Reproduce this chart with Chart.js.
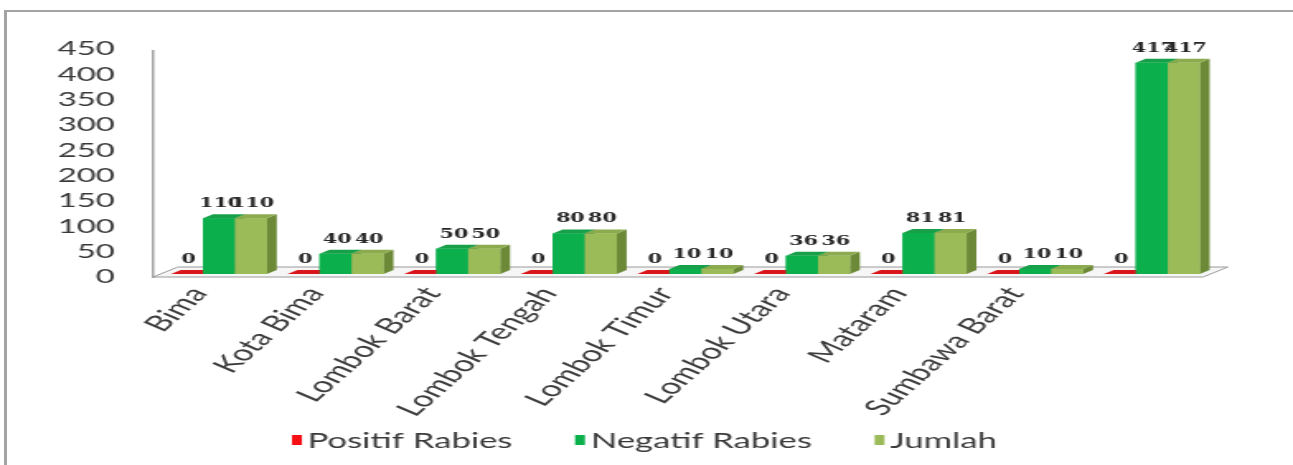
<!DOCTYPE html>
<html>
<head>
<meta charset="utf-8">
<script src="https://cdn.jsdelivr.net/npm/chart.js@4.4.1/dist/chart.umd.min.js"></script>
<style>
  html, body { margin: 0; padding: 0; background: #ffffff; overflow: hidden; }
  #wrap { position: relative; width: 1293px; height: 465px; }
  #wrap canvas { display: block; }
  #frame {
    position: absolute; left: 4px; top: 10px; right: 0; bottom: 0;
    border-top: 2px solid #a3a3a3; border-left: 3px solid #a3a3a3;
    pointer-events: none;
  }
</style>
</head>
<body>
<div id="wrap">
  <!-- drawn on a narrower bitmap and widened to the page width -->
  <canvas id="chart" width="784" height="465" style="width:1293px;height:465px"></canvas>
  <div id="frame"></div>
</div>
<script>
// ---- data ----
const categories = ['Bima', 'Kota Bima', 'Lombok Barat', 'Lombok Tengah', 'Lombok Timur',
                    'Lombok Utara', 'Mataram', 'Sumbawa Barat', ''];
const positifRabies = [0, 0, 0, 0, 0, 0, 0, 0, 0];
const negatifRabies = [110, 40, 50, 80, 10, 36, 81, 10, 417];
const jumlah        = [110, 40, 50, 80, 10, 36, 81, 10, 417];
const seriesNames   = ['Positif Rabies', 'Negatif Rabies', 'Jumlah'];
const yTickValues   = [0, 50, 100, 150, 200, 250, 300, 350, 400, 450];

// ---- look ----
const shades = [
  { front: '#f50f12', top: '#d9161b', side: '#9e0c0c' },
  { front: '#0bb04d', top: '#17a049', side: '#077d37' },
  { front: '#9bbb59', top: '#8cab4e', side: '#6c8938' }
];
const DX = 6, DY = -4;          // bar depth
const FLOOR_DX = 15, FLOOR_DY = -10;

function poly(ctx, pts, fill) {
  ctx.beginPath();
  ctx.moveTo(pts[0][0], pts[0][1]);
  for (let i = 1; i < pts.length; i++) ctx.lineTo(pts[i][0], pts[i][1]);
  ctx.closePath();
  ctx.fillStyle = fill;
  ctx.fill();
}

// floor, wall edge, 3-D bar faces, value labels and legend
const bars3d = {
  id: 'bars3d',
  beforeDatasetsDraw(chart) {
    const { ctx, chartArea, scales: { y } } = chart;
    const y0 = y.getPixelForValue(0) + 3;
    const left = chartArea.left - 4.6;
    const right = chartArea.right - 4.2;
    ctx.save();
    ctx.beginPath();
    ctx.moveTo(left, y0);
    ctx.lineTo(right, y0);
    ctx.lineTo(right + FLOOR_DX, y0 + FLOOR_DY);
    ctx.lineTo(left + FLOOR_DX, y0 + FLOOR_DY);
    ctx.closePath();
    ctx.fillStyle = '#f6f6f6';
    ctx.fill();
    ctx.strokeStyle = '#9a9a9a';
    ctx.lineWidth = 1;
    ctx.stroke();
    ctx.beginPath();
    ctx.moveTo(left, y0 + 1);
    ctx.lineTo(left, y.getPixelForValue(yTickValues[yTickValues.length - 1]) + 4);
    ctx.strokeStyle = '#8c8c8c';
    ctx.lineWidth = 1.2;
    ctx.stroke();
    ctx.restore();
  },
  afterDatasetsDraw(chart) {
    const { ctx } = chart;
    const metas = chart.data.datasets.map((_, i) => chart.getDatasetMeta(i));
    const n = chart.data.labels.length;
    ctx.save();
    for (let j = 0; j < n; j++) {
      metas.forEach((meta, d) => {
        const el = meta.data[j];
        const { x, y, base, width } = el.getProps(['x', 'y', 'base', 'width'], true);
        const x0 = x - width / 2, x1 = x + width / 2;
        const s = shades[d];
        poly(ctx, [[x1, y], [x1 + DX, y + DY], [x1 + DX, base + DY], [x1, base]], s.side);
        poly(ctx, [[x0, y], [x0 + DX, y + DY], [x1 + DX, y + DY], [x1, y]], s.top);
        if (base - y > 0) {
          ctx.fillStyle = s.front;
          ctx.fillRect(x0, y, width, base - y);
        }
      });
    }
    ctx.font = 'bold 12.5px "DejaVu Serif"';
    ctx.fillStyle = '#262626';
    ctx.textAlign = 'center';
    ctx.textBaseline = 'alphabetic';
    for (let j = 0; j < n; j++) {
      metas.forEach((meta, d) => {
        const el = meta.data[j];
        const { x, y } = el.getProps(['x', 'y'], true);
        ctx.fillText(String(chart.data.datasets[d].data[j]), x + 1, y - 11);
      });
    }
    ctx.restore();
  },
  afterDraw(chart) {
    const { ctx } = chart;
    ctx.save();
    ctx.font = '21px Lato';
    const box = 6, boxH = 10, gapText = 3.5, gapItem = 38;
    let x = 177;
    const cy = 440;
    ctx.textBaseline = 'middle';
    ctx.textAlign = 'left';
    chart.data.datasets.forEach((ds, i) => {
      ctx.fillStyle = shades[i].front;
      ctx.fillRect(x, cy - boxH / 2, box, boxH);
      x += box + gapText;
      ctx.fillStyle = '#3a3a3a';
      ctx.fillText(ds.label, x, cy + 1);
      x += ctx.measureText(ds.label).width + gapItem;
    });
    ctx.restore();
  }
};

function draw() {
  const ctx = document.getElementById('chart').getContext('2d');
  new Chart(ctx, {
    type: 'bar',
    data: {
      labels: categories,
      datasets: [
        { label: seriesNames[0], data: positifRabies, backgroundColor: shades[0].front },
        { label: seriesNames[1], data: negatifRabies, backgroundColor: shades[1].front },
        { label: seriesNames[2], data: jumlah, backgroundColor: shades[2].front }
      ]
    },
    options: {
      responsive: false,
      animation: false,
      devicePixelRatio: 1,
      layout: { padding: { top: 46, right: 50.3, bottom: 0, left: 0 } },
      datasets: { bar: { categoryPercentage: 0.823, barPercentage: 1, borderWidth: 0 } },
      plugins: { legend: { display: false }, tooltip: { enabled: false } },
      scales: {
        x: {
          grid: { display: false, drawTicks: false },
          border: { display: false },
          ticks: {
            autoSkip: false, maxRotation: 55, minRotation: 55, padding: 8, labelOffset: -12,
            color: '#3c3c3c', font: { family: 'Lato', size: 22 }
          },
          afterFit(scale) { scale.height = 191; }
        },
        y: {
          min: 0, max: 450,
          grid: { display: false, drawTicks: false },
          border: { display: false },
          afterBuildTicks(scale) { scale.ticks = yTickValues.map(v => ({ value: v })); },
          ticks: {
            autoSkip: false, padding: 27.7, labelOffset: 3,
            color: '#3a3a3a', font: { family: 'Lato', size: 20 }
          },
          afterFit(scale) { scale.width = 97.4; }
        }
      }
    },
    plugins: [bars3d]
  });
}

if (document.fonts && document.fonts.load) {
  Promise.all([
    document.fonts.load('20px Lato'),
    document.fonts.load('bold 12.5px "DejaVu Serif"')
  ]).then(draw, draw);
} else {
  draw();
}
</script>
</body>
</html>
